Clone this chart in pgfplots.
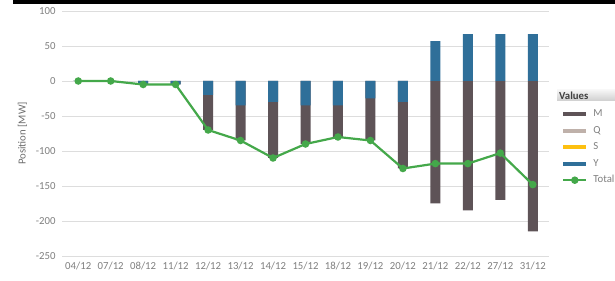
\documentclass[border=0pt]{standalone}
\usepackage{pgfplots}
\pgfplotsset{compat=1.18}
\usepackage{pgfplotstable}
\usepackage{fontspec}
\setmainfont{Carlito}
\definecolor{cM}{HTML}{5E5357}
\definecolor{cQ}{HTML}{BFB1AA}
\definecolor{cS}{HTML}{FDC010}
\definecolor{cY}{HTML}{2F6F99}
\definecolor{cT}{HTML}{44A84A}
\definecolor{tickc}{HTML}{7F7F7F}
\definecolor{gridc}{HTML}{DDDDDD}

\pgfplotstableread{
x lab M Y T
0 04/12 0 0 0
1 07/12 0 0 0
2 08/12 0 -5 -5
3 11/12 0 -5 -5
4 12/12 -50 -20 -70
5 13/12 -50 -35 -85
6 14/12 -80 -30 -110
7 15/12 -55 -35 -90
8 18/12 -45 -35 -80
9 19/12 -60 -25 -85
10 20/12 -95 -30 -125
11 21/12 -175 57 -118
12 22/12 -185 67 -118
13 27/12 -170 67 -103
14 31/12 -215 67 -148
}\data

\pgfplotsset{
  bar legend/.style={legend image code/.code={\fill[#1] (0bp,-2bp) rectangle (23bp,2bp);}},
  dot legend/.style={legend image code/.code={\draw[#1, mark repeat=2, mark phase=2] plot coordinates {(0bp,0bp) (11.5bp,0bp) (23bp,0bp)};}},
}

\begin{document}
\begin{tikzpicture}
\path[use as bounding box] (0,0) rectangle (615bp,281bp);
\fill[black] (13bp,277bp) rectangle (615bp,281bp);
\begin{axis}[
  at={(62bp,25bp)}, anchor=south west,
  scale only axis, width=487bp, height=245bp,
  xmin=-0.5, xmax=14.5, ymin=-250, ymax=100,
  xtick={0,...,14},
  xticklabels from table={\data}{lab},
  ytick={-250,-200,...,100},
  axis line style={draw=none},
  major tick length=0pt,
  ymajorgrids, grid style={color=gridc, line width=0.9bp},
  tick label style={font=\fontsize{10.8}{12}\selectfont, text=tickc},
  yticklabel style={xshift=-3bp},
  xticklabel style={yshift=-3bp},
  /pgf/number format/assume math mode=true,
  ylabel={Position [MW]},
  ylabel shift=2bp,
  ylabel style={font=\fontsize{10.8}{12}\selectfont, text=tickc!85!black},
  legend style={at={(axis description cs:1,0.60)}, anchor=north west,
    xshift=13bp, draw=none, fill=none, inner sep=0pt,
    font=\fontsize{10.8}{12}\selectfont, text=tickc,
    nodes={inner sep=0pt, text height=7.5bp, text depth=2.5bp},
    row sep=6.5bp, column sep=6bp},
  legend cell align=left,
]
\addplot[ybar, bar width=10bp, bar shift=0pt, fill=cM, draw=none, bar legend]
  table[x=x, y expr={\thisrow{M}+min(\thisrow{Y},0)}] {\data};
\addlegendentry{M}
\addlegendimage{bar legend, fill=cQ, draw=none}
\addlegendentry{Q}
\addlegendimage{bar legend, fill=cS, draw=none}
\addlegendentry{S}
\addplot[ybar, bar width=10bp, bar shift=0pt, fill=cY, draw=none, bar legend]
  table[x=x, y=Y] {\data};
\addlegendentry{Y}
\addplot[color=cT, line width=2.2bp, mark=*, mark size=2.6bp, dot legend]
  table[x=x, y=T] {\data};
\addlegendentry{Total}
\end{axis}
\shade[top color=gray!8, bottom color=gray!38] (557bp,180bp) rectangle (615bp,191bp);
\node[anchor=west, inner sep=0pt, font=\fontsize{10.8}{12}\selectfont\bfseries, text=black!75] at (559bp,185.5bp) {Values};
\end{tikzpicture}
\end{document}
